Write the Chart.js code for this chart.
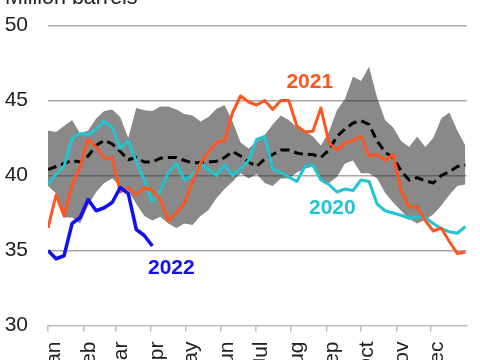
<!DOCTYPE html>
<html><head><meta charset="utf-8">
<script src="https://cdn.jsdelivr.net/npm/chart.js@4/dist/chart.umd.min.js"></script>
<style>html,body{margin:0;padding:0;background:#fff;}canvas{display:block;}</style>
</head><body>
<canvas id="c" width="480" height="360"></canvas>
<script>
// ---- data ----
const monthLabels = ['Jan','Feb','Mar','Apr','May','Jun','Jul','Aug','Sep','Oct','Nov','Dec'];
const monthStartDays = [0,31,59,90,120,151,181,212,243,273,304,334];
const weekDays = [0,7,14,21,28,35,42,49,56,63,70,77,84,91,98,105,112,119,126,133,140,147,154,161,168,175,182,189,196,203,210,217,224,231,238,245,252,259,266,273,280,287,294,301,308,315,322,329,336,343,350,357,364];
const yTicks = [30,35,40,45,50];

const range5yMin = [39.3,38.8,37.2,37.2,36.8,38.0,38.9,39.5,39.8,39.3,
  39.0,38.1,37.3,37.0,37.25,36.8,36.5,36.8,36.7,37.3,
  37.7,38.5,39.1,39.6,40.15,39.8,40.1,39.5,39.3,39.8,
  39.8,40.2,40.45,40.6,39.7,39.5,39.9,40.8,41.0,40.15,
  40.15,39.8,38.85,38.2,37.65,37.1,36.8,37.05,37.4,38.0,
  38.7,39.3,39.4];
const range5yMax = [43.0,42.9,43.3,43.7,42.8,43.0,43.8,44.3,44.4,43.9,
  42.5,44.5,44.35,44.3,44.6,44.6,44.4,44.1,44.0,43.6,
  43.9,44.45,44.7,43.6,42.2,41.8,42.25,42.7,43.4,44.0,
  43.7,43.2,43.0,42.6,42.0,42.9,44.35,45.1,46.6,46.3,
  47.25,45.2,43.7,43.2,42.3,41.9,42.6,41.9,42.5,43.8,
  44.2,43.0,42.0];
const avg5y = [40.4,40.6,40.8,41.0,40.9,41.3,42.0,42.35,42.1,41.6,
  41.05,41.2,40.9,40.9,41.15,41.2,41.2,41.0,40.85,40.85,
  40.9,40.95,41.2,41.6,41.3,40.9,40.6,41.1,41.4,41.7,
  41.7,41.5,41.4,41.4,41.2,41.7,42.6,43.1,43.5,43.65,
  43.4,42.3,41.55,41.2,40.3,39.7,39.85,39.65,39.5,40.0,
  40.25,40.6,40.7];
const y2020 = [39.4,40.1,40.6,42.5,42.8,42.7,43.1,43.6,43.2,41.8,
  42.3,40.9,39.7,38.25,39.0,40.2,40.8,39.7,40.0,40.8,
  40.4,40.0,40.7,40.0,40.45,41.0,42.4,42.6,40.45,40.2,
  39.9,39.6,40.6,40.7,39.7,39.4,38.9,39.1,39.0,39.7,
  39.6,38.1,37.65,37.5,37.35,37.15,37.25,37.2,36.8,36.45,
  36.25,36.15,36.6];
const y2021 = [36.5,38.7,37.3,39.4,40.6,42.4,41.9,41.15,41.15,38.9,
  39.2,38.7,39.2,39.0,38.4,37.0,37.5,38.15,39.6,40.8,
  41.6,42.2,42.3,44.2,45.3,44.9,44.7,45.0,44.4,45.0,
  45.0,43.3,42.9,42.95,44.5,42.2,41.7,42.15,42.35,42.6,
  41.3,41.4,41.0,41.4,39.0,37.9,37.9,37.0,36.3,36.5,
  35.6,34.8,34.9];
const y2022 = [35.0,34.45,34.65,36.8,37.2,38.4,37.65,37.85,38.2,39.2,
  38.8,36.4,36.0,35.3];

// ---- chart ----
Chart.defaults.font.family = '"Liberation Sans", Arial, sans-serif';
Chart.defaults.font.size = 21;
Chart.defaults.color = '#222';

const COL2020 = '#22c4d2', COL2021 = '#ff5522', COL2022 = '#1010f0';

const annot = {
  id: 'annot',
  afterDraw(chart, args, opts) {
    const {ctx, scales: {x, y}} = chart;
    ctx.save();
    ctx.font = '21.5px "Liberation Sans", Arial, sans-serif';
    ctx.fillStyle = '#222';
    ctx.textAlign = 'left';
    ctx.textBaseline = 'alphabetic';
    ctx.fillText(opts.title, opts.titleX, opts.titleY);
    ctx.font = 'bold 21px "Liberation Sans", Arial, sans-serif';
    ctx.textAlign = 'center';
    ctx.textBaseline = 'middle';
    for (const l of opts.labels) {
      const ds = chart.data.datasets[l.dataset];
      ctx.fillStyle = ds.borderColor;
      ctx.fillText(ds.label, x.getPixelForValue(l.day), y.getPixelForValue(l.value));
    }
    ctx.restore();
  }
};

const none = 'rgba(0,0,0,0)';
new Chart(document.getElementById('c'), {
  type: 'line',
  data: {
    labels: weekDays,
    datasets: [
      {label: 'min', data: range5yMin, borderColor: none, borderWidth: 0, pointRadius: 0, fill: false, order: 10},
      {label: 'max', data: range5yMax, borderColor: none, borderWidth: 0, pointRadius: 0, fill: '-1', backgroundColor: 'rgba(40,40,40,0.55)', order: 9},
      {label: 'avg', data: avg5y, borderColor: '#000', borderWidth: 3, borderDash: [9, 5], pointRadius: 0, fill: false, order: 5},
      {label: '2020', data: y2020, borderColor: COL2020, borderWidth: 3, pointRadius: 0, fill: false, order: 4},
      {label: '2021', data: y2021, borderColor: COL2021, borderWidth: 3, pointRadius: 0, fill: false, order: 3},
      {label: '2022', data: y2022, borderColor: COL2022, borderWidth: 3.5, pointRadius: 0, fill: false, order: 2}
    ]
  },
  options: {
    responsive: false,
    animation: false,
    events: [],
    layout: {padding: {left: 0, right: 13.5, top: 25.5, bottom: 0}},
    elements: {line: {tension: 0, borderJoinStyle: 'round', borderCapStyle: 'butt'}},
    plugins: {
      legend: {display: false},
      tooltip: {enabled: false},
      annot: {
        title: 'Million barrels', titleX: 5, titleY: 4,
        labels: [
          {dataset: 5, day: 107.6, value: 33.8},
          {dataset: 4, day: 228.3, value: 46.25},
          {dataset: 3, day: 248, value: 37.8}
        ]
      }
    },
    scales: {
      x: {
        type: 'linear', min: 0, max: 365,
        afterBuildTicks: s => { s.ticks = monthStartDays.map(v => ({value: v})); },
        afterFit: s => { s.height = 34.5; s.paddingLeft = 0; s.paddingRight = 0; },
        ticks: {
          autoSkip: false, minRotation: 90, maxRotation: 90, padding: 10, labelOffset: 6,
          color: '#222', font: {size: 21},
          callback: (v, i) => monthLabels[i]
        },
        grid: {drawOnChartArea: false, drawTicks: true, tickLength: 6, color: '#bdbdbd', lineWidth: 1.5},
        border: {display: true, color: '#bdbdbd', width: 1.5}
      },
      y: {
        min: 30, max: 50,
        afterBuildTicks: s => { s.ticks = yTicks.map(v => ({value: v})); },
        afterFit: s => { s.width = 48; s.paddingTop = 0; s.paddingBottom = 0; },
        ticks: {padding: 20, color: '#222', font: {size: 21}},
        grid: {drawTicks: false, lineWidth: 1.5, color: c => (c.tick && c.tick.value === 30) ? 'rgba(0,0,0,0)' : '#a6a6a6'},
        border: {display: false}
      }
    }
  },
  plugins: [annot]
});
</script>
</body></html>
